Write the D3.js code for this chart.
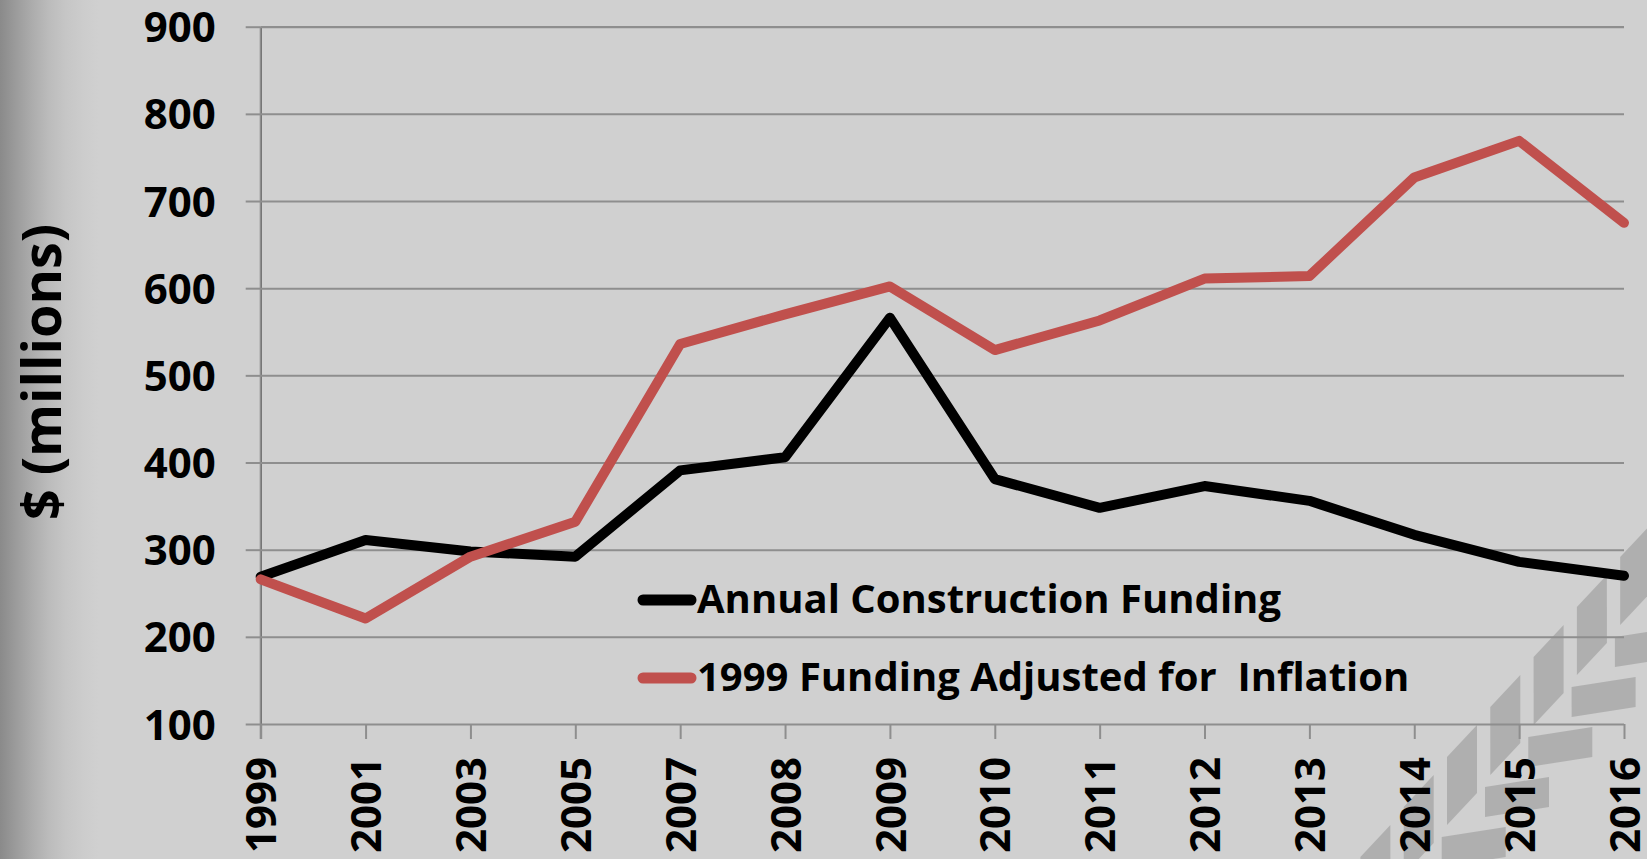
<!DOCTYPE html>
<html>
<head>
<meta charset="utf-8">
<script src="https://cdn.jsdelivr.net/npm/d3@7"></script>
<style>
  html, body { margin: 0; padding: 0; background: #d0d0d0; }
  svg { display: block; font-family: "Open Sans", sans-serif; font-weight: 700; }
  .axis path { display: none; }
  .axis line { stroke: #8e8e8e; stroke-width: 2; }
  .axis text { fill: #000; font-size: 42px; font-family: "Open Sans", sans-serif; font-weight: 700; }
  .grid line { stroke: #8e8e8e; stroke-width: 2; }
  .grid text { display: none; }
</style>
</head>
<body>
<svg id="chart" width="1647" height="859"></svg>
<script>
// Construction funding vs. 1999 funding adjusted for inflation ($ millions)

const years = ['1999', '2001', '2003', '2005', '2007', '2008', '2009', '2010', '2011', '2012', '2013', '2014', '2015', '2016'];
const annualFunding = [269, 311, 298, 292, 391, 406, 566, 381, 348, 373, 356, 317, 286, 270];
const adjustedFunding = [266, 221, 292, 332, 536, 570, 602, 529, 563, 611, 614, 727, 769, 675];
const yTicks = [100, 200, 300, 400, 500, 600, 700, 800, 900];

const series = [
  { name: 'Annual Construction Funding', values: annualFunding, color: '#000000' },
  { name: '1999 Funding Adjusted for\u00a0 Inflation', values: adjustedFunding, color: '#c0504d' }
];

const width = 1647, height = 859;
const margin = { top: 27, right: 23, bottom: 135, left: 261 };

const svg = d3.select('#chart');

// background with darker left edge
const defs = svg.append('defs');
const grad = defs.append('linearGradient').attr('id', 'bg-grad')
  .attr('x1', 0).attr('x2', 1).attr('y1', 0).attr('y2', 0);
[[0, '#8a8a8a'], [1, '#9c9c9c'], [2, '#adadad'], [3, '#bcbcbc'], [4, '#c6c6c6'], [5, '#cccccc'], [6, '#d0d0d0'], [100, '#d0d0d0']]
  .forEach(([o, c]) => grad.append('stop').attr('offset', o + '%').attr('stop-color', c));
svg.append('rect').attr('width', width).attr('height', height).attr('fill', 'url(#bg-grad)');

// tire tread texture in the bottom right corner
const tread = svg.append('g').attr('class', 'tread').attr('fill', '#acacac').attr('opacity', 0.9);
for (let k = -2; k <= 4; k++) {
  const ox = 1447 + k * 43.3, oy = 757 - k * 50;
  tread.append('path')
    .attr('d', `M ${ox} ${oy} L ${ox + 30} ${oy - 32} L ${ox + 30} ${oy + 36} L ${ox} ${oy + 68} Z`);
  tread.append('path')
    .attr('d', `M ${ox + 38} ${oy + 30} L ${ox + 102} ${oy + 20} L ${ox + 102} ${oy + 50} L ${ox + 38} ${oy + 60} Z`);
}

const x = d3.scalePoint().domain(years).range([margin.left - 0.3, width - margin.right]);
const y = d3.scaleLinear().domain([100, 900]).range([height - margin.bottom, margin.top - 0.3]);

// gridlines
svg.append('g')
  .attr('class', 'grid')
  .attr('transform', `translate(${margin.left - 0.3},0)`)
  .call(d3.axisLeft(y).tickValues(yTicks).tickSize(-(x.range()[1] - x.range()[0])).tickFormat(''));

// y axis
const yAxis = svg.append('g')
  .attr('class', 'axis')
  .attr('transform', `translate(${margin.left - 0.3},0)`)
  .call(d3.axisLeft(y).tickValues(yTicks).tickSize(15).tickPadding(30));
yAxis.selectAll('text').attr('dy', '0.36em');
yAxis.append('line')
  .attr('x1', 0).attr('x2', 0)
  .attr('y1', y(900)).attr('y2', y(100) + 15);

// x axis
const xAxis = svg.append('g')
  .attr('class', 'axis')
  .attr('transform', `translate(0,${height - margin.bottom})`)
  .call(d3.axisBottom(x).tickSize(15));
xAxis.selectAll('text')
  .attr('transform', 'rotate(-90)')
  .attr('text-anchor', 'end')
  .attr('x', -33)
  .attr('y', 0)
  .attr('dy', '0.36em');

// y axis title
svg.append('text')
  .attr('transform', 'translate(61,372) rotate(-90)')
  .attr('text-anchor', 'middle')
  .attr('font-size', 54)
  .attr('fill', '#000')
  .text('$ (millions)');

// lines
const line = d3.line()
  .x((d, i) => x(years[i]))
  .y(d => y(d));

series.forEach(s => {
  svg.append('path')
    .datum(s.values)
    .attr('fill', 'none')
    .attr('stroke', s.color)
    .attr('stroke-width', 10)
    .attr('stroke-linejoin', 'round')
    .attr('stroke-linecap', 'round')
    .attr('d', line);
});

// legend
const legend = svg.append('g').attr('class', 'legend');
series.forEach((s, i) => {
  const ly = 600 + i * 78;
  legend.append('line')
    .attr('x1', 643).attr('x2', 691)
    .attr('y1', ly).attr('y2', ly)
    .attr('stroke', s.color)
    .attr('stroke-width', 11)
    .attr('stroke-linecap', 'round');
  legend.append('text')
    .attr('x', 697)
    .attr('y', ly + 13)
    .attr('font-size', 40)
    .attr('fill', '#000')
    .text(s.name);
});
</script>
</body>
</html>
